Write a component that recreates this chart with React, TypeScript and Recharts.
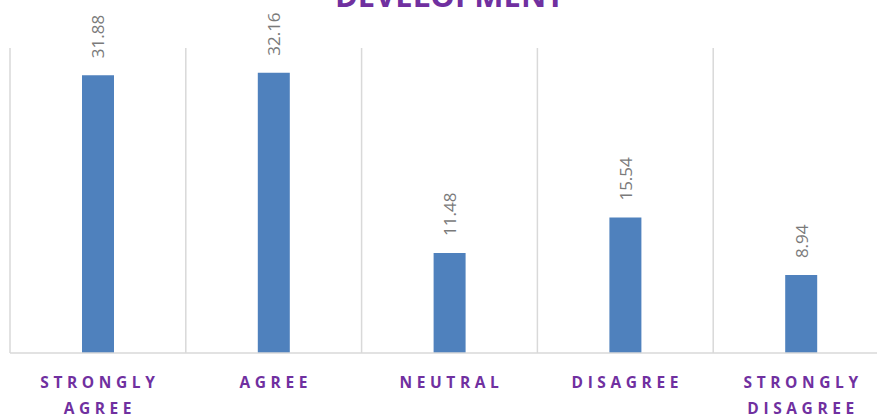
import React from "react";
import { BarChart, Bar, XAxis, YAxis, CartesianGrid, LabelList } from "recharts";

const categories = ["STRONGLY AGREE", "AGREE", "NEUTRAL", "DISAGREE", "STRONGLY DISAGREE"];
const percentages = [31.88, 32.16, 11.48, 15.54, 8.94];

const data = categories.map((name, i) => ({ name, value: percentages[i] }));

const PURPLE = "#7030A0";
const BLUE = "#4F81BD";
const GRID = "#d9d9d9";
const FONT = "'Open Sans', 'Liberation Sans', sans-serif";

function CategoryTick({ x, y, payload }: any) {
  const words = String(payload.value).split(" ");
  return (
    <text
      x={x + 2}
      y={y}
      textAnchor="middle"
      fill={PURPLE}
      fontFamily={FONT}
      fontWeight={700}
      fontSize={15.5}
      letterSpacing={4.6}
    >
      {words.map((w, i) => (
        <tspan key={i} x={x + 2} dy={i === 0 ? 33 : 26}>
          {w}
        </tspan>
      ))}
    </text>
  );
}

function ValueLabel({ x, y, width, value }: any) {
  const cx = x + width / 2;
  const cy = y - 17;
  return (
    <text
      x={cx}
      y={cy}
      transform={`rotate(-90 ${cx} ${cy})`}
      textAnchor="start"
      dominantBaseline="central"
      fill="#7a7a7a"
      fontFamily={FONT}
      fontSize={17}
    >
      {Number(value).toFixed(2)}
    </text>
  );
}

export default function App() {
  return (
    <div style={{ position: "absolute", left: 0, top: 0, width: 877, height: 415, overflow: "hidden", background: "#fff" }}>
      <BarChart
        width={900}
        height={415}
        data={data}
        margin={{ top: 48, right: 11, bottom: 32, left: 10 }}
      >
        <text
          x={449.5}
          y={7}
          textAnchor="middle"
          fill={PURPLE}
          fontFamily={FONT}
          fontWeight={700}
          fontSize={31}
        >
          DEVELOPMENT
        </text>
        <CartesianGrid
          horizontal={false}
          vertical
          stroke={GRID}
          strokeWidth={1.5}
          verticalCoordinatesGenerator={({ offset }: any) =>
            categories.map((_, i) => offset.left + (i * offset.width) / categories.length).concat(offset.left + offset.width)
          }
        />
        <XAxis
          dataKey="name"
          height={30}
          axisLine={{ stroke: GRID, strokeWidth: 1.5 }}
          tickLine={false}
          tickSize={0}
          interval={0}
          tick={<CategoryTick />}
        />
        <YAxis hide domain={[0, 35]} />
        <Bar dataKey="value" fill={BLUE} barSize={32} isAnimationActive={false}>
          <LabelList dataKey="value" content={<ValueLabel />} />
        </Bar>
      </BarChart>
    </div>
  );
}
